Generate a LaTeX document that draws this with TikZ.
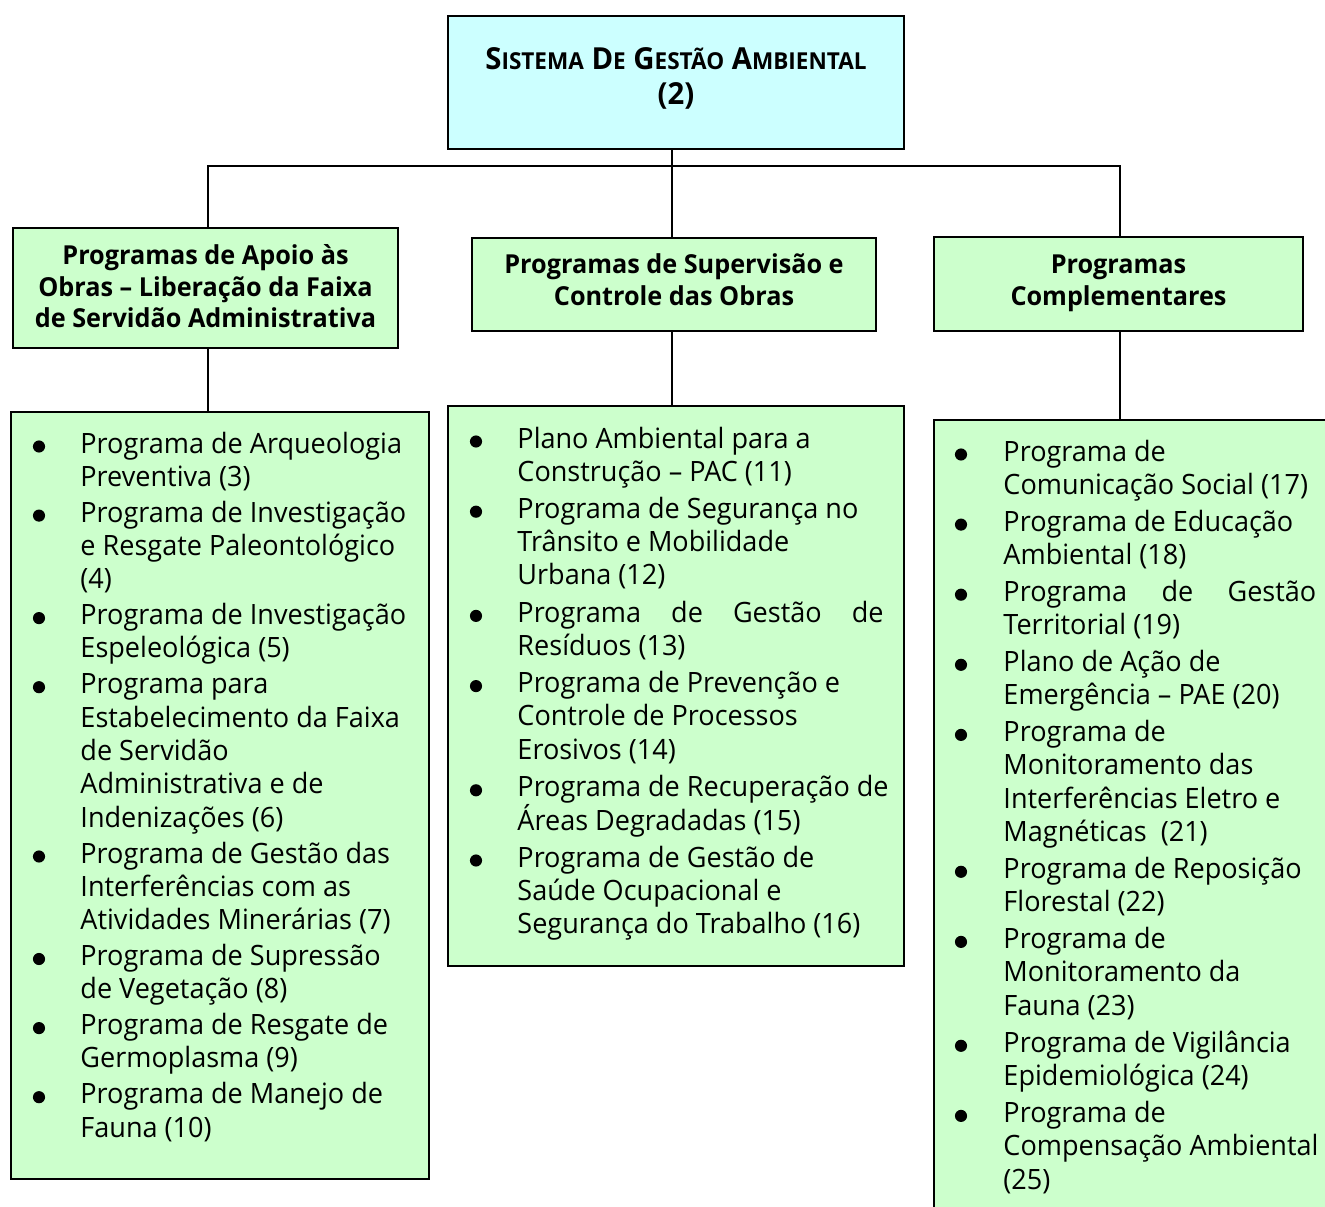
\documentclass[tikz,border=0pt]{standalone}
\usepackage{fontspec}
\setmainfont{Open Sans}[FakeStretch=0.966]
\definecolor{cyanbox}{HTML}{CCFFFF}
\definecolor{greenbox}{HTML}{CCFFCC}
\newcommand\Vt[2]{\vtop{\baselineskip=#1\lineskiplimit=-\maxdimen\lineskip=0pt #2}}
\newcommand\Lp[1]{\hbox{#1}}
\newcommand\Cl[1]{\hbox to 180pt{\hss#1\hss}}
\newcommand\Sm[1]{{\fontsize{10}{10}\selectfont #1}}
\newcommand\Item[5]{%
  \node[bul] (b#1) at (#2,#4-6.5) {};
  \node[itm] (t#1) at (#3,#4) {\Vt{14.31pt}{#5}};}
\tikzset{
  frame/.style={draw=black, line width=0.9pt, inner sep=0pt},
  bx/.style 2 args={minimum width={#1*0.4286pt}, minimum height={#2*0.4286pt}},
  itm/.style={anchor=base west, inner sep=0pt, font=\fontsize{12}{14.31}\selectfont},
  hdr/.style={anchor=base, inner sep=0pt, font=\bfseries\fontsize{11.2}{13.3}\selectfont},
  ttl/.style={anchor=base, inner sep=0pt, font=\bfseries\fontsize{13}{14.14}\selectfont},
  bul/.style={circle, fill=black, inner sep=0pt, minimum size=5.2pt},
  conn/.style={line width=0.9pt}
}
\begin{document}
\begin{tikzpicture}[x=0.4286pt,y=-0.4286pt]
\clip (0,0) rectangle (1325,1207);
% boxes
\node[frame, fill=cyanbox, bx={456}{133}] (tb) at (676,82.5) {};
\node[frame, fill=greenbox, bx={385}{120}] (hl) at (205.5,288) {};
\node[frame, fill=greenbox, bx={404}{93}] (hm) at (674,284.5) {};
\node[frame, fill=greenbox, bx={369}{94}] (hr) at (1118.5,284) {};
\node[frame, fill=greenbox, bx={418}{767}] (ll) at (220,795.5) {};
\node[frame, fill=greenbox, bx={456}{560}] (lm) at (676,686) {};
\node[frame, fill=greenbox, bx={430}{820}] (lr) at (1149,830) {};
% connectors
\coordinate (j) at (672,166);
\coordinate (busL) at (208,166);
\coordinate (busR) at (1120,166);
\draw[conn] (j |- tb.south) -- (j);
\draw[conn] (busL |- hl.north) -- (busL) -- (busR) -- (busR |- hr.north);
\draw[conn] (j) -- (j |- hm.north);
\draw[conn] (busL |- hl.south) -- (busL |- ll.north);
\draw[conn] (j |- hm.south) -- (j |- lm.north);
\draw[conn] (busR |- hr.south) -- (busR |- lr.north);
% titles
\node[ttl] (ttb) at (676,70) {\Vt{14.8pt}{\Cl{S\Sm{ISTEMA} D\Sm{E} G\Sm{ESTÃO} A\Sm{MBIENTAL}}\Cl{(2)}}};
\node[hdr] (thl) at (205.5,265) {\Vt{13.29pt}{\Cl{Programas de Apoio às}\Cl{Obras – Liberação da Faixa}\Cl{de Servidão Administrativa}}};
\node[hdr] (thm) at (674,274) {\Vt{13.29pt}{\Cl{Programas de Supervisão e}\Cl{Controle das Obras}}};
\node[hdr] (thr) at (1118.5,274) {\Vt{13.29pt}{\Cl{Programas}\Cl{Complementares}}};
% left list
\Item{L1}{39}{80}{453}{\Lp{Programa de Arqueologia}\Lp{Preventiva (3)}}
\Item{L2}{39}{80}{522.1}{\Lp{Programa de Investigação}\Lp{e Resgate Paleontológico}\Lp{(4)}}
\Item{L3}{39}{80}{624.6}{\Lp{Programa de Investigação}\Lp{Espeleológica (5)}}
\Item{L4}{39}{80}{693.7}{\Lp{Programa para}\Lp{Estabelecimento da Faixa}\Lp{de Servidão}\Lp{Administrativa e de}\Lp{Indenizações (6)}}
\Item{L5}{39}{80}{863}{\Lp{Programa de Gestão das}\Lp{Interferências com as}\Lp{Atividades Minerárias (7)}}
\Item{L6}{39}{80}{965.5}{\Lp{Programa de Supressão}\Lp{de Vegetação (8)}}
\Item{L7}{39}{80}{1034.6}{\Lp{Programa de Resgate de}\Lp{Germoplasma (9)}}
\Item{L8}{39}{80}{1103.7}{\Lp{Programa de Manejo de}\Lp{Fauna (10)}}
% middle list
\Item{M1}{476}{517}{448}{\Lp{Plano Ambiental para a}\Lp{Construção – PAC (11)}}
\Item{M2}{476}{517}{518.2}{\Lp{Programa de Segurança no}\Lp{Trânsito e Mobilidade}\Lp{Urbana (12)}}
\Item{M3}{476}{517}{622.4}{\Lp{\makebox[156.9pt][s]{Programa de Gestão de}}\Lp{Resíduos (13)}}
\Item{M4}{476}{517}{692.6}{\Lp{Programa de Prevenção e}\Lp{Controle de Processos}\Lp{Erosivos (14)}}
\Item{M5}{476}{517}{796.8}{\Lp{Programa de Recuperação de}\Lp{Áreas Degradadas (15)}}
\Item{M6}{476}{517}{867}{\Lp{Programa de Gestão de}\Lp{Saúde Ocupacional e}\Lp{Segurança do Trabalho (16)}}
% right list
\Item{R1}{961}{1003}{461}{\Lp{Programa de}\Lp{Comunicação Social (17)}}
\Item{R2}{961}{1003}{531.1}{\Lp{Programa de Educação}\Lp{Ambiental (18)}}
\Item{R3}{961}{1003}{601.2}{\Lp{\makebox[134.1pt][s]{Programa de Gestão}}\Lp{Territorial (19)}}
\Item{R4}{961}{1003}{671.3}{\Lp{Plano de Ação de}\Lp{Emergência – PAE (20)}}
\Item{R5}{961}{1003}{741.4}{\Lp{Programa de}\Lp{Monitoramento das}\Lp{Interferências Eletro e}\Lp{Magnéticas\ \ (21)}}
\Item{R6}{961}{1003}{878.3}{\Lp{Programa de Reposição}\Lp{Florestal (22)}}
\Item{R7}{961}{1003}{948.4}{\Lp{Programa de}\Lp{Monitoramento da}\Lp{Fauna (23)}}
\Item{R8}{961}{1003}{1052.3}{\Lp{Programa de Vigilância}\Lp{Epidemiológica (24)}}
\Item{R9}{961}{1003}{1122.4}{\Lp{Programa de}\Lp{Compensação Ambiental}\Lp{(25)}}
\end{tikzpicture}
\end{document}
